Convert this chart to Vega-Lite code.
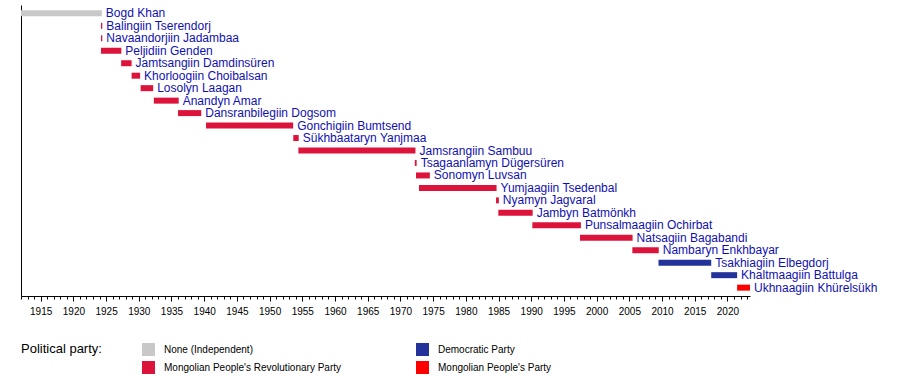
{
  "$schema": "https://vega.github.io/schema/vega-lite/v6.json",
  "width": 729,
  "height": 291,
  "autosize": "none",
  "padding": {"left": 21, "top": 5, "right": 150, "bottom": 80},
  "background": "white",
  "config": {"view": {"stroke": null}, "font": "Liberation Sans"},
  "data": {
    "values": [
      {"name": "Bogd Khan", "start": 1911.99, "end": 1924.35, "party": "None (Independent)"},
      {"name": "Balingiin Tserendorj", "start": 1924.22, "end": 1924.42, "party": "Mongolian People's Revolutionary Party"},
      {"name": "Navaandorjiin Jadambaa", "start": 1924.22, "end": 1924.42, "party": "Mongolian People's Revolutionary Party"},
      {"name": "Peljidiin Genden", "start": 1924.22, "end": 1927.33, "party": "Mongolian People's Revolutionary Party"},
      {"name": "Jamtsangiin Damdinsüren", "start": 1927.3, "end": 1928.9, "party": "Mongolian People's Revolutionary Party"},
      {"name": "Khorloogiin Choibalsan", "start": 1928.9, "end": 1930.2, "party": "Mongolian People's Revolutionary Party"},
      {"name": "Losolyn Laagan", "start": 1930.28, "end": 1932.2, "party": "Mongolian People's Revolutionary Party"},
      {"name": "Anandyn Amar", "start": 1932.3, "end": 1936.1, "party": "Mongolian People's Revolutionary Party"},
      {"name": "Dansranbilegiin Dogsom", "start": 1936.0, "end": 1939.55, "party": "Mongolian People's Revolutionary Party"},
      {"name": "Gonchigiin Bumtsend", "start": 1940.28, "end": 1953.6, "party": "Mongolian People's Revolutionary Party"},
      {"name": "Sükhbaataryn Yanjmaa", "start": 1953.62, "end": 1954.45, "party": "Mongolian People's Revolutionary Party"},
      {"name": "Jamsrangiin Sambuu", "start": 1954.4, "end": 1972.3, "party": "Mongolian People's Revolutionary Party"},
      {"name": "Tsagaanlamyn Dügersüren", "start": 1972.2, "end": 1972.48, "party": "Mongolian People's Revolutionary Party"},
      {"name": "Sonomyn Luvsan", "start": 1972.38, "end": 1974.5, "party": "Mongolian People's Revolutionary Party"},
      {"name": "Yumjaagiin Tsedenbal", "start": 1972.84, "end": 1984.7, "party": "Mongolian People's Revolutionary Party"},
      {"name": "Nyamyn Jagvaral", "start": 1984.62, "end": 1985.05, "party": "Mongolian People's Revolutionary Party"},
      {"name": "Jambyn Batmönkh", "start": 1984.97, "end": 1990.22, "party": "Mongolian People's Revolutionary Party"},
      {"name": "Punsalmaagiin Ochirbat", "start": 1990.17, "end": 1997.6, "party": "Mongolian People's Revolutionary Party"},
      {"name": "Natsagiin Bagabandi", "start": 1997.46, "end": 2005.5, "party": "Mongolian People's Revolutionary Party"},
      {"name": "Nambaryn Enkhbayar", "start": 2005.46, "end": 2009.5, "party": "Mongolian People's Revolutionary Party"},
      {"name": "Tsakhiagiin Elbegdorj", "start": 2009.46, "end": 2017.52, "party": "Democratic Party"},
      {"name": "Khaltmaagiin Battulga", "start": 2017.52, "end": 2021.48, "party": "Democratic Party"},
      {"name": "Ukhnaagiin Khürelsükh", "start": 2021.48, "end": 2023.45, "party": "Mongolian People's Party"}
    ]
  },
  "encoding": {
    "y": {
      "field": "name", "type": "nominal", "sort": null,
      "scale": {"paddingInner": 0, "paddingOuter": 0.17},
      "axis": {"labels": false, "ticks": false, "title": null, "domainColor": "black", "grid": false}
    }
  },
  "layer": [
    {
      "mark": {"type": "bar", "height": 6},
      "encoding": {
        "x": {
          "field": "start", "type": "quantitative",
          "scale": {"domain": [1911.99, 2023.45], "nice": false, "zero": false},
          "axis": {
            "values": [1912,1913,1914,1915,1916,1917,1918,1919,1920,1921,1922,1923,1924,1925,1926,1927,1928,1929,1930,1931,1932,1933,1934,1935,1936,1937,1938,1939,1940,1941,1942,1943,1944,1945,1946,1947,1948,1949,1950,1951,1952,1953,1954,1955,1956,1957,1958,1959,1960,1961,1962,1963,1964,1965,1966,1967,1968,1969,1970,1971,1972,1973,1974,1975,1976,1977,1978,1979,1980,1981,1982,1983,1984,1985,1986,1987,1988,1989,1990,1991,1992,1993,1994,1995,1996,1997,1998,1999,2000,2001,2002,2003,2004,2005,2006,2007,2008,2009,2010,2011,2012,2013,2014,2015,2016,2017,2018,2019,2020,2021,2022,2023],
            "format": "d",
            "labelExpr": "datum.value % 5 === 0 ? datum.label : ''",
            "tickSize": {"condition": {"test": "datum.value % 5 === 0", "value": 5}, "value": 3},
            "tickColor": "black",
            "domainColor": "black",
            "labelColor": "black",
            "labelFontSize": 10,
            "labelPadding": 5,
            "labelOverlap": false,
            "labelFlush": false,
            "grid": false,
            "title": null
          }
        },
        "x2": {"field": "end"},
        "color": {
          "field": "party", "type": "nominal",
          "scale": {
            "domain": ["None (Independent)", "Mongolian People's Revolutionary Party", "Democratic Party", "Mongolian People's Party"],
            "range": ["#c8c8c8", "#dc143c", "#24339a", "#ff0000"]
          },
          "legend": {
            "orient": "none", "legendX": 0, "legendY": 338,
            "columns": 2,
            "title": "Political party:",
            "titleOrient": "left",
            "titleAnchor": "start",
            "titleBaseline": "top",
            "titleFontSize": 13,
            "titleFontWeight": "normal",
            "titleColor": "black",
            "titlePadding": 40,
            "symbolType": "square",
            "symbolSize": 169,
            "symbolStrokeWidth": 0,
            "symbolOpacity": 1,
            "labelFontSize": 10,
            "labelColor": "black",
            "labelOffset": 9,
            "labelLimit": 300,
            "columnPadding": 74,
            "rowPadding": 5
          }
        }
      }
    },
    {
      "mark": {"type": "text", "align": "left", "baseline": "middle", "dx": 4, "fontSize": 12, "color": "#1010b0"},
      "encoding": {
        "x": {
          "field": "end", "type": "quantitative",
          "axis": {
            "values": [1912,1913,1914,1915,1916,1917,1918,1919,1920,1921,1922,1923,1924,1925,1926,1927,1928,1929,1930,1931,1932,1933,1934,1935,1936,1937,1938,1939,1940,1941,1942,1943,1944,1945,1946,1947,1948,1949,1950,1951,1952,1953,1954,1955,1956,1957,1958,1959,1960,1961,1962,1963,1964,1965,1966,1967,1968,1969,1970,1971,1972,1973,1974,1975,1976,1977,1978,1979,1980,1981,1982,1983,1984,1985,1986,1987,1988,1989,1990,1991,1992,1993,1994,1995,1996,1997,1998,1999,2000,2001,2002,2003,2004,2005,2006,2007,2008,2009,2010,2011,2012,2013,2014,2015,2016,2017,2018,2019,2020,2021,2022,2023],
            "format": "d",
            "labelExpr": "datum.value % 5 === 0 ? datum.label : ''",
            "tickSize": {"condition": {"test": "datum.value % 5 === 0", "value": 5}, "value": 3},
            "tickColor": "black",
            "domainColor": "black",
            "labelColor": "black",
            "labelFontSize": 10,
            "labelPadding": 5,
            "labelOverlap": false,
            "labelFlush": false,
            "grid": false,
            "title": null
          }
        },
        "text": {"field": "name"}
      }
    }
  ]
}
